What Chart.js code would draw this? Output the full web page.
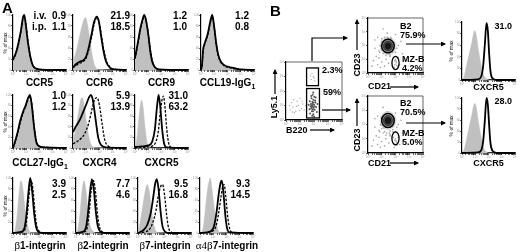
<!DOCTYPE html>
<html>
<head>
<meta charset="utf-8">
<script src="https://cdn.jsdelivr.net/npm/chart.js@4.4.1/dist/chart.umd.min.js"></script>
<style>
  body { margin: 0; background: #fff; }
  #fig { position: relative; width: 520px; height: 252px; overflow: hidden; font-family: "Liberation Sans", Arial, sans-serif; }
  #fig canvas { position: absolute; }
  .t { position: absolute; font-weight: bold; font-size: 10px; line-height: 11px; white-space: pre; color: #000; }
  .r { text-align: right; }
  .c { text-align: center; }
  .s { font-size: 9px; line-height: 8.5px; }
  .g { font-family: "Liberation Serif", "Times New Roman", serif; font-weight: normal; font-size: 11px; }
  .pm { position: absolute; width: 30px; text-align: center; font-size: 5px; line-height: 6px; transform: rotate(-90deg); white-space: nowrap; }
  .rot { position: absolute; text-align: center; font-weight: bold; font-size: 9px; line-height: 10px; transform: rotate(-90deg); white-space: nowrap; }
  .big { position: absolute; font-weight: bold; font-size: 15px; line-height: 15px; }
  svg { position: absolute; left: 0; top: 0; }
</style>
</head>
<body>
<div id="fig">
  <div class="big" style="left:2px;top:0px">A</div>
  <div class="big" style="left:270px;top:3px">B</div>

  <!-- panel A: values and labels -->
  <div class="t r" style="left:20px;top:10px;width:46px">i.v.  0.9
i.p.  1.1</div>
  <div class="t r" style="left:90px;top:10px;width:40px">21.9
18.5</div>
  <div class="t r" style="left:150px;top:10px;width:37px">1.2
1.0</div>
  <div class="t r" style="left:215px;top:10px;width:34px">1.2
0.8</div>
  <div class="t c" style="left:13px;top:77px;width:53px">CCR5</div>
  <div class="t c" style="left:73px;top:77px;width:53px">CCR6</div>
  <div class="t c" style="left:135px;top:77px;width:53px">CCR9</div>
  <div class="t c" style="left:196px;top:77px;width:63px">CCL19-IgG<sub style="font-size:7px">1</sub></div>

  <div class="t r" style="left:30px;top:90px;width:36px">1.0
1.2</div>
  <div class="t r" style="left:90px;top:90px;width:40px">5.9
13.9</div>
  <div class="t r" style="left:150px;top:90px;width:38px">31.0
63.2</div>
  <div class="t c" style="left:5px;top:157px;width:70px">CCL27-IgG<sub style="font-size:7px">1</sub></div>
  <div class="t c" style="left:73px;top:157px;width:53px">CXCR4</div>
  <div class="t c" style="left:135px;top:157px;width:53px">CXCR5</div>

  <div class="t r" style="left:30px;top:178px;width:36px">3.9
2.5</div>
  <div class="t r" style="left:92px;top:178px;width:38px">7.7
4.6</div>
  <div class="t r" style="left:150px;top:178px;width:38px">9.5
16.8</div>
  <div class="t r" style="left:212px;top:178px;width:38px">9.3
14.5</div>
  <div class="t c" style="left:5px;top:240px;width:70px"><span class="g">β</span>1-integrin</div>
  <div class="t c" style="left:68px;top:240px;width:70px"><span class="g">β</span>2-integrin</div>
  <div class="t c" style="left:130px;top:240px;width:70px"><span class="g">β</span>7-integrin</div>
  <div class="t c" style="left:187px;top:240px;width:80px"><span class="g">α4β</span>7-integrin</div>

  <div class="pm" style="left:-10px;top:40px">% of max</div>
  <div class="pm" style="left:-10px;top:119px">% of max</div>
  <div class="pm" style="left:-10px;top:203px">% of max</div>
  <div class="pm" style="left:436px;top:48px">% of max</div>
  <div class="pm" style="left:436px;top:123px">% of max</div>

  <!-- panel B labels -->
  <div class="rot" style="left:259px;top:102px;width:30px">Ly5.1</div>
  <div class="t s" style="left:286px;top:126px">B220</div>
  <div class="t s" style="left:322px;top:66px">2.3%</div>
  <div class="t s" style="left:323px;top:88px">59%</div>

  <div class="rot" style="left:342px;top:60px;width:30px">CD23</div>
  <div class="rot" style="left:342px;top:135px;width:30px">CD23</div>
  <div class="t s" style="left:368px;top:82px">CD21</div>
  <div class="t s" style="left:368px;top:159px">CD21</div>
  <div class="t s" style="left:400px;top:22px">B2
75.9%</div>
  <div class="t s" style="left:402px;top:55px">MZ-B
4.2%</div>
  <div class="t s" style="left:400px;top:99px">B2
70.5%</div>
  <div class="t s" style="left:402px;top:129px">MZ-B
5.0%</div>

  <div class="t s r" style="left:480px;top:22px;width:32px">31.0</div>
  <div class="t s r" style="left:480px;top:97px;width:32px">28.0</div>
  <div class="t s c" style="left:462px;top:83px;width:53px">CXCR5</div>
  <div class="t s c" style="left:462px;top:159px;width:53px">CXCR5</div>

  <svg width="520" height="252">
    <defs>
      <marker id="ah" markerWidth="5" markerHeight="5" refX="4" refY="2.5" orient="auto" markerUnits="userSpaceOnUse">
        <path d="M0,0 L5,2.5 L0,5 z" fill="#000"/>
      </marker>
    </defs>
    <g stroke="#000" stroke-width="1.2" fill="none" marker-end="url(#ah)">
      <polyline points="312,61 312,38 347,38"/>
      <line x1="322" y1="110" x2="350" y2="110"/>
      <line x1="275" y1="94" x2="275" y2="70"/>
      <line x1="310" y1="130" x2="334" y2="130"/>
      <line x1="357" y1="50" x2="357" y2="20"/>
      <line x1="357" y1="126" x2="357" y2="99"/>
      <line x1="390" y1="87" x2="418" y2="87"/>
      <line x1="390" y1="163" x2="418" y2="163"/>
      <line x1="406" y1="44" x2="445" y2="44"/>
      <line x1="406" y1="123" x2="445" y2="123"/>
    </g>
  </svg>
</div>

<script>
// log decades on the x axis (0 = 10^0 ... 4 = 10^4)
const tickLabels = ['10\u2070', '10\u00b9', '10\u00b2', '10\u00b3', '10\u2074'];
const yTickLabels = ['0', '20', '40', '60', '80', '100'];

// histograms: [decade, % of max]; iso = grey isotype, iv = solid, ip = dashed
const ccr5Iso = [[0,18],[0.2,28],[0.4,45],[0.6,70],[0.8,92],[0.9,88],[1.05,60],[1.2,30],[1.4,10],[1.6,3],[2,0],[4,0]];
const ccr5Iv  = [[0,20],[0.2,30],[0.4,48],[0.6,72],[0.75,95],[0.85,100],[0.95,85],[1.1,55],[1.3,25],[1.5,8],[1.8,2],[2.5,0],[4,0]];
const ccr5Ip  = [[0,18],[0.2,28],[0.4,45],[0.6,70],[0.8,97],[0.9,95],[1.0,80],[1.15,50],[1.35,20],[1.6,5],[2,1],[4,0]];

const ccr6Iso = [[0,15],[0.2,30],[0.4,50],[0.6,72],[0.8,90],[0.95,95],[1.1,82],[1.3,50],[1.5,20],[1.7,5],[2,1],[4,0]];
const ccr6Iv  = [[0,5],[0.2,10],[0.5,15],[0.8,18],[1.0,25],[1.2,42],[1.4,65],[1.6,88],[1.8,97],[1.95,88],[2.1,65],[2.3,35],[2.5,15],[2.8,4],[3.2,1],[4,0]];
const ccr6Ip  = [[0,4],[0.2,8],[0.5,12],[0.8,16],[1.0,22],[1.2,38],[1.4,60],[1.6,84],[1.8,95],[1.95,90],[2.1,70],[2.3,40],[2.5,18],[2.8,5],[3.2,1],[4,0]];

const ccr9Iso = [[0,25],[0.2,45],[0.4,70],[0.6,88],[0.75,92],[0.9,80],[1.05,55],[1.2,28],[1.4,10],[1.6,3],[2,0],[4,0]];
const ccr9Iv  = [[0,22],[0.2,48],[0.4,75],[0.55,90],[0.7,100],[0.85,88],[1.0,65],[1.15,35],[1.3,15],[1.5,5],[1.8,1],[4,0]];
const ccr9Ip  = [[0,20],[0.2,45],[0.4,72],[0.6,92],[0.75,96],[0.9,82],[1.05,58],[1.2,30],[1.4,10],[1.7,2],[2.2,0],[4,0]];

const ccl19Iso = [[0,0],[0.08,8],[0.15,30],[0.3,45],[0.5,62],[0.7,85],[0.85,95],[1.0,75],[1.15,45],[1.3,25],[1.5,12],[1.8,6],[2.2,3],[2.8,1],[4,0]];
const ccl19Iv  = [[0,0],[0.08,10],[0.15,35],[0.3,50],[0.5,65],[0.7,88],[0.85,100],[1.0,78],[1.15,48],[1.3,28],[1.5,15],[1.8,8],[2.2,5],[2.6,3],[3,1],[4,0]];
const ccl19Ip  = [[0,0],[0.08,9],[0.15,32],[0.3,48],[0.5,63],[0.7,86],[0.85,97],[1.0,76],[1.15,46],[1.3,26],[1.5,14],[1.8,7],[2.2,4],[2.6,2],[3,1],[4,0]];

const ccl27Iso = [[0,0],[0.15,8],[0.35,25],[0.55,45],[0.75,62],[0.95,78],[1.15,88],[1.3,90],[1.45,70],[1.6,35],[1.75,10],[1.95,2],[2.3,0],[4,0]];
const ccl27Iv  = [[0,0],[0.15,12],[0.35,30],[0.55,52],[0.75,68],[0.95,80],[1.15,95],[1.28,100],[1.42,80],[1.58,42],[1.75,12],[2,3],[2.5,1],[4,0]];
const ccl27Ip  = [[0,0],[0.15,10],[0.35,28],[0.55,48],[0.75,65],[0.95,78],[1.15,92],[1.3,96],[1.45,78],[1.6,40],[1.78,12],[2,3],[2.5,1],[4,0]];

const cxcr4Iso = [[0,10],[0.2,35],[0.4,65],[0.6,92],[0.7,95],[0.85,80],[1.0,50],[1.2,20],[1.4,5],[1.7,1],[4,0]];
const cxcr4Iv  = [[0,30],[0.2,40],[0.4,48],[0.6,58],[0.8,70],[1.0,82],[1.2,95],[1.35,100],[1.5,90],[1.7,55],[1.9,20],[2.1,6],[2.5,1],[4,0]];
const cxcr4Ip  = [[0,8],[0.3,12],[0.6,18],[0.9,28],[1.2,48],[1.45,75],[1.65,92],[1.82,95],[2.0,80],[2.2,45],[2.4,15],[2.7,3],[3.2,0],[4,0]];

const cxcr5Iso = [[0,0],[0.1,10],[0.25,45],[0.4,80],[0.5,90],[0.62,75],[0.75,40],[0.9,12],[1.05,2],[1.3,0],[4,0]];
const cxcr5Iv  = [[0,2],[0.5,3],[1.0,5],[1.3,12],[1.5,35],[1.65,75],[1.78,100],[1.9,80],[2.05,35],[2.2,8],[2.4,1],[4,0]];
const cxcr5Ip  = [[0,0],[1.0,2],[1.5,8],[1.75,30],[1.9,65],[2.05,92],[2.15,98],[2.27,75],[2.4,35],[2.55,8],[2.75,1],[4,0]];

const b1Iso = [[0,0],[0.15,5],[0.3,30],[0.45,70],[0.6,95],[0.75,80],[0.9,45],[1.05,20],[1.2,5],[1.4,1],[4,0]];
const b1Iv  = [[0,0],[0.6,2],[0.85,8],[1.0,30],[1.15,70],[1.3,100],[1.45,75],[1.6,35],[1.75,10],[1.95,2],[2.3,0],[4,0]];
const b1Ip  = [[0,0],[0.7,2],[0.95,10],[1.1,38],[1.25,78],[1.38,95],[1.5,80],[1.65,40],[1.8,12],[2.0,3],[2.4,0],[4,0]];

const b2Iso = [[0,0],[0.15,8],[0.3,35],[0.45,75],[0.6,95],[0.75,78],[0.9,40],[1.05,15],[1.25,4],[1.5,0],[4,0]];
const b2Iv  = [[0,0],[0.5,2],[0.75,10],[0.9,35],[1.05,72],[1.2,98],[1.35,78],[1.5,38],[1.65,12],[1.85,2],[2.2,0],[4,0]];
const b2Ip  = [[0,0],[0.6,2],[0.85,10],[1.0,38],[1.15,78],[1.32,95],[1.47,75],[1.62,35],[1.78,10],[2.0,2],[2.4,0],[4,0]];

const b7Iso = [[0,0],[0.1,10],[0.3,40],[0.5,70],[0.7,88],[0.85,75],[1.0,45],[1.15,20],[1.3,6],[1.5,1],[4,0]];
const b7Iv  = [[0,0],[0.4,5],[0.7,15],[0.95,35],[1.15,65],[1.3,90],[1.42,98],[1.55,80],[1.7,40],[1.85,12],[2.05,2],[2.4,0],[4,0]];
const b7Ip  = [[0,0],[0.8,5],[1.1,18],[1.35,40],[1.55,70],[1.72,85],[1.85,88],[2.0,70],[2.15,35],[2.3,10],[2.5,2],[2.8,0],[4,0]];

const a4b7Iso = [[0,0],[0.2,5],[0.35,30],[0.5,65],[0.65,90],[0.78,100],[0.9,80],[1.05,50],[1.2,22],[1.35,6],[1.5,1],[4,0]];
const a4b7Iv  = [[0,0],[0.8,3],[1.05,12],[1.25,38],[1.42,72],[1.56,92],[1.65,95],[1.78,70],[1.92,30],[2.05,8],[2.25,1],[4,0]];
const a4b7Ip  = [[0,0],[0.9,3],[1.2,12],[1.4,35],[1.58,65],[1.72,85],[1.82,88],[1.95,65],[2.1,28],[2.25,7],[2.45,1],[4,0]];

// panel B CXCR5 histograms (B2 gate): grey isotype, solid stain
const bTopIso = [[0,0],[0.15,5],[0.35,25],[0.55,45],[0.75,65],[0.95,85],[1.05,80],[1.25,50],[1.45,25],[1.65,8],[1.85,2],[2.1,0],[4,0]];
const bTopCx  = [[0,0],[1.2,1],[1.45,6],[1.6,25],[1.72,60],[1.85,98],[1.95,85],[2.05,45],[2.15,15],[2.3,3],[2.6,0],[4,0]];
const bBotIso = [[0,0],[0.15,5],[0.35,25],[0.55,48],[0.75,70],[0.95,90],[1.05,86],[1.25,55],[1.45,28],[1.65,8],[1.85,2],[2.1,0],[4,0]];
const bBotCx  = [[0,0],[1.2,1],[1.45,5],[1.6,22],[1.72,58],[1.85,100],[1.95,88],[2.05,50],[2.15,18],[2.3,4],[2.6,0],[4,0]];

// dot plots: [x decade, y decade]
const gateDense = [[1.72,0.45],[1.85,0.6],[1.95,0.4],[2.05,0.7],[1.8,0.8],[1.9,0.95],[2.0,1.05],[1.78,1.1],[1.88,1.25],[2.1,1.2],[1.95,1.4],[1.82,1.5],[2.02,1.6],[1.9,1.75],[1.75,0.95],[2.15,0.9],[1.68,0.75],[2.2,0.55],[1.92,0.75],[1.85,1.0],[1.98,0.85],[2.08,1.35],[1.7,1.3],[1.87,0.3],[2.0,0.25],[1.62,1.05],[2.25,1.1],[1.95,1.9],[1.8,1.65],[2.12,1.55],[1.9,1.1],[1.96,1.2],[1.84,0.88],[2.04,0.95],[1.93,0.6]];
const gateSparse = [[0.3,0.7],[0.5,0.9],[0.7,0.6],[0.9,1.0],[1.1,0.8],[0.4,1.2],[0.8,1.3],[1.2,1.1],[0.6,0.5],[1.0,1.5],[0.25,1.0],[1.3,0.7],[0.55,1.4],[0.95,0.65],[1.15,1.3],[0.75,0.95],[1.4,1.0],[0.45,0.55],[1.8,2.8],[1.95,3.0],[2.05,2.7],[1.85,3.2],[2.0,2.9],[1.75,3.05]];
const gateRects = [[1.47,2.32,2.37,3.59],[1.47,2.39,0.14,2.17]]; // xmin, xmax, ymin, ymax

const cdCloud = [[0.6,1.2],[0.8,1.6],[1.0,2.3],[1.1,1.4],[1.2,2.6],[0.9,2.0],[1.7,2.5],[1.8,1.5],[1.9,2.2],[1.6,1.2],[1.3,1.0],[1.0,0.8],[0.7,0.6],[0.4,0.9],[0.5,1.8],[2.1,1.8],[2.2,1.1],[2.3,0.6],[1.9,0.4],[1.5,0.7],[1.2,0.5],[0.9,0.4],[2.5,1.4],[1.4,2.9],[0.7,2.6],[2.0,2.8],[1.15,1.75],[1.75,1.85],[1.3,2.3],[1.6,1.55],[0.3,0.5],[2.6,0.9],[1.1,3.2],[0.5,2.4],[2.4,2.3],[1.85,1.1],[2.05,0.75],[1.95,0.9],[2.1,0.55],
  [1.0,1.7],[1.05,2.2],[1.2,1.5],[1.25,2.4],[1.5,2.5],[1.7,2.3],[1.85,1.9],[1.8,1.65],[1.55,1.4],[1.35,1.4],[0.95,1.95],[1.65,2.6],[1.9,2.05],[1.15,2.0],[1.4,2.6],[1.6,1.3],[1.0,2.5],[2.0,1.5],[0.85,1.5],[1.3,1.25],[1.95,0.6],[2.05,0.85],[2.0,1.0],[0.8,1.1],[2.2,2.0]];
// ellipse gates: cx, cy, rx, ry
const b2GateTop = [1.45, 1.96, 0.46, 0.5];
const mzGateTop = [2.0, 0.73, 0.26, 0.48];
const b2GateBot = [1.45, 2.28, 0.46, 0.5];
const mzGateBot = [2.0, 1.03, 0.26, 0.45];

const YW = 10, XH = 7, PT = 3, PR = 3;
const fig = document.getElementById('fig');

function pts(a) { return a.map(p => ({ x: p[0], y: p[1] })); }

function makeCanvas(left, top, w, h) {
  const c = document.createElement('canvas');
  c.width = w + YW + PR;
  c.height = h + PT + XH;
  c.style.left = (left - YW) + 'px';
  c.style.top = (top - PT) + 'px';
  c.style.width = c.width + 'px';
  c.style.height = c.height + 'px';
  fig.insertBefore(c, fig.firstChild);
  return c;
}

function axis(isX, max, step) {
  return {
    type: 'linear', min: 0, max: max,
    afterBuildTicks: isX ? s => {
      const t = [];
      for (let d = 0; d < 4; d++) for (let k = 1; k < 10; k++) t.push({ value: d + Math.log10(k) });
      t.push({ value: 4 });
      s.ticks = t;
    } : undefined,
    ticks: {
      stepSize: step, autoSkip: false, maxRotation: 0, padding: 0,
      font: { size: 3, family: 'Liberation Sans' }, color: '#999',
      callback: v => isX ? (Number.isInteger(v) ? tickLabels[v] : '') : (max === 100 ? yTickLabels[v / 20] : tickLabels[v])
    },
    grid: { drawOnChartArea: false, drawTicks: true, tickLength: 2, color: '#000', lineWidth: 0.6 },
    border: { display: true, color: '#000', width: 1.2 },
    afterFit: s => { if (isX) s.height = XH; else s.width = YW; }
  };
}

const baseOpts = (yMax, yStep) => ({
  responsive: false, animation: false, events: [],
  layout: { padding: { top: PT, right: PR, left: 0, bottom: 0 } },
  plugins: { legend: { display: false }, tooltip: { enabled: false } },
  scales: { x: axis(true, 4, 1), y: axis(false, yMax, yStep) }
});

function histo(left, top, w, h, iso, iv, ip) {
  const sets = [];
  if (iv) sets.push({ data: pts(iv), borderColor: '#000', borderWidth: 1.8 });
  if (ip) sets.push({ data: pts(ip), borderColor: '#000', borderWidth: 1.3, borderDash: [2.5, 1.5] });
  sets.push({ data: pts(iso), borderColor: '#bcbcbc', borderWidth: 0.5, backgroundColor: '#c0c0c0', fill: 'origin' });
  new Chart(makeCanvas(left, top, w, h), {
    type: 'line',
    data: { datasets: sets.map(s => Object.assign({ pointRadius: 0, fill: false, cubicInterpolationMode: 'monotone', clip: 3 }, s)) },
    options: baseOpts(100, 20)
  });
}

// draws frame, rectangle gates and ellipse gates through the chart's scales
function gatePlugin(rects, ellipses, cores) {
  return {
    id: 'gates',
    afterDatasetsDraw(chart) {
      const { ctx, chartArea: a, scales: { x, y } } = chart;
      const ell = (e, f) => {
        ctx.beginPath();
        ctx.ellipse(x.getPixelForValue(e[0]), y.getPixelForValue(e[1]),
          Math.abs(x.getPixelForValue(e[0] + e[2] * f) - x.getPixelForValue(e[0])),
          Math.abs(y.getPixelForValue(e[1] + e[3] * f) - y.getPixelForValue(e[1])), 0, 0, Math.PI * 2);
      };
      ctx.save();
      ctx.strokeStyle = '#000';
      ctx.lineWidth = 0.6;
      ctx.beginPath();
      ctx.moveTo(a.left, a.top); ctx.lineTo(a.right, a.top); ctx.lineTo(a.right, a.bottom);
      ctx.stroke();
      (cores || []).forEach(e => {
        [[1.35, 'rgba(160,160,160,0.35)'], [1.0, '#8c8c8c'], [0.72, '#4a4a4a'], [0.45, '#161616']].forEach(([f, col]) => {
          ell(e, f);
          ctx.fillStyle = col; ctx.fill();
          if (f < 1.2) { ctx.lineWidth = 0.5; ctx.strokeStyle = '#111'; ctx.stroke(); }
        });
      });
      ctx.lineWidth = 1.3;
      ctx.strokeStyle = '#000';
      rects.forEach(r => {
        const x0 = x.getPixelForValue(r[0]), x1 = x.getPixelForValue(r[1]);
        const y0 = y.getPixelForValue(r[3]), y1 = y.getPixelForValue(r[2]);
        ctx.strokeRect(x0, y0, x1 - x0, y1 - y0);
      });
      ellipses.forEach(e => { ell(e, 1); ctx.stroke(); });
      ctx.restore();
    }
  };
}

function dots(left, top, w, h, sets, rects, ellipses, cores) {
  new Chart(makeCanvas(left, top, w, h), {
    type: 'scatter',
    data: { datasets: sets.map(s => ({ data: pts(s.d), pointRadius: s.r, pointBorderWidth: 0, backgroundColor: s.c })) },
    options: baseOpts(4, 1),
    plugins: [gatePlugin(rects, ellipses, cores)]
  });
}

// panel A
histo(13, 15, 53, 55, ccr5Iso, ccr5Iv, ccr5Ip);
histo(73, 15, 53, 55, ccr6Iso, ccr6Iv, ccr6Ip);
histo(135, 15, 53, 55, ccr9Iso, ccr9Iv, ccr9Ip);
histo(201, 15, 53, 55, ccl19Iso, ccl19Iv, ccl19Ip);
histo(13, 95, 53, 53, ccl27Iso, ccl27Iv, ccl27Ip);
histo(73, 95, 53, 53, cxcr4Iso, cxcr4Iv, cxcr4Ip);
histo(135, 95, 53, 53, cxcr5Iso, cxcr5Iv, cxcr5Ip);
histo(13, 178, 53, 55, b1Iso, b1Iv, b1Ip);
histo(76, 178, 53, 55, b2Iso, b2Iv, b2Ip);
histo(138, 178, 53, 55, b7Iso, b7Iv, b7Ip);
histo(200, 178, 53, 55, a4b7Iso, a4b7Iv, a4b7Ip);

// panel B
dots(286, 61, 57, 59, [{ d: gateSparse, r: 0.7, c: '#aaa' }, { d: gateDense, r: 1.0, c: '#555' }], gateRects, []);
dots(368, 17, 56, 56, [{ d: cdCloud, r: 0.8, c: '#a0a0a0' }], [], [b2GateTop, mzGateTop], [b2GateTop]);
dots(368, 95, 56, 58, [{ d: cdCloud, r: 0.8, c: '#a0a0a0' }], [], [b2GateBot, mzGateBot], [b2GateBot]);
histo(462, 22, 53, 58, bTopIso, bTopCx, null);
histo(462, 98, 53, 55, bBotIso, bBotCx, null);
</script>
</body>
</html>
